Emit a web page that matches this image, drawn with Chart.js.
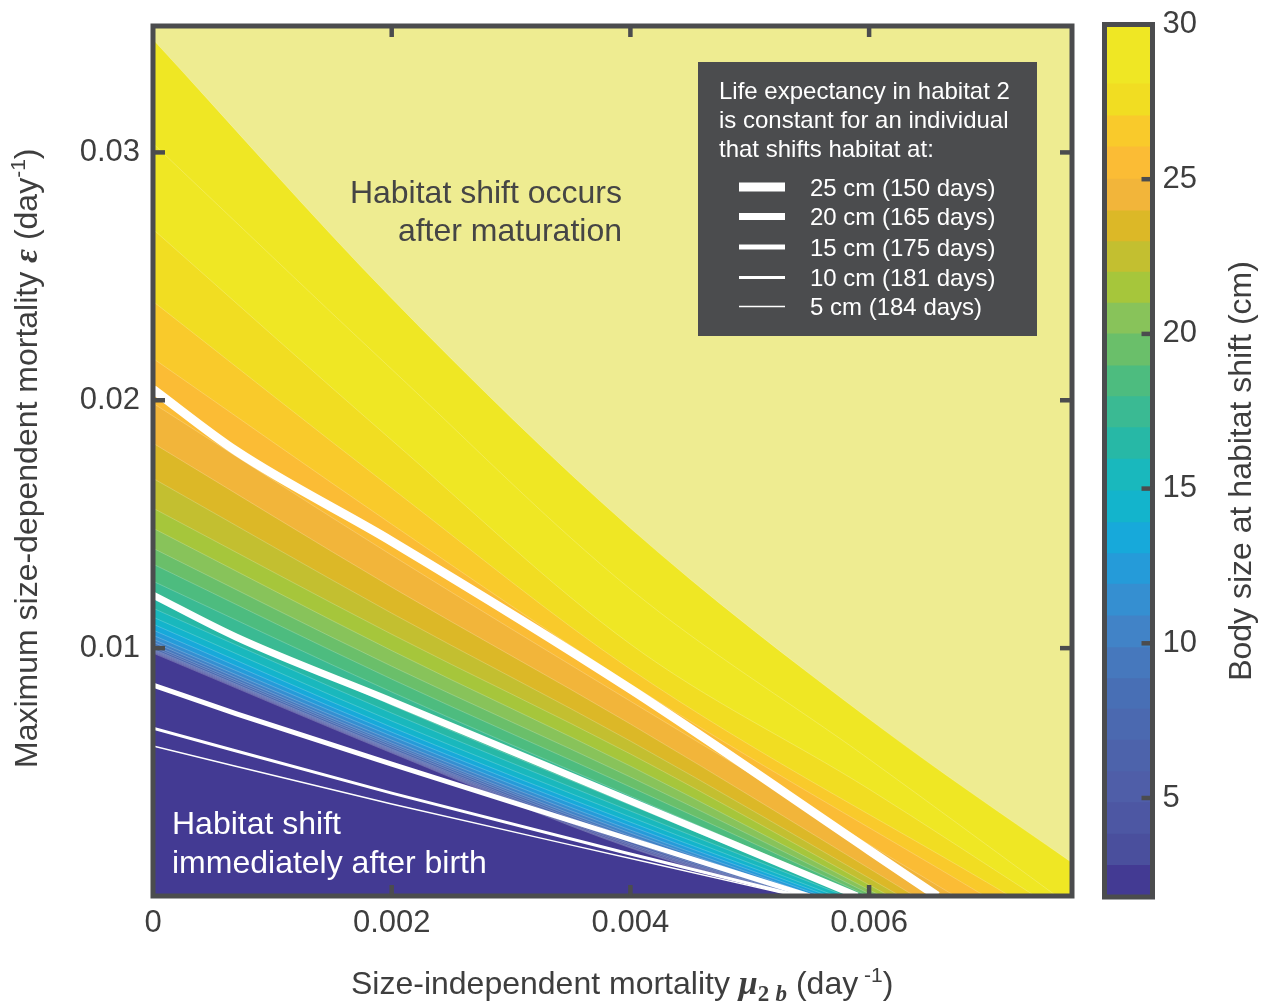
<!DOCTYPE html>
<html>
<head>
<meta charset="utf-8">
<script src="https://cdn.jsdelivr.net/npm/chart.js@4.4.1/dist/chart.umd.min.js"></script>
<style>
  html, body { margin: 0; padding: 0; background: #fff; }
  #wrap { position: relative; width: 1265px; height: 1001px; }
  #main { position: absolute; left: 0; top: 0; }
  #cbar { position: absolute; left: 1080px; top: 0; }
</style>
</head>
<body>
<div id="wrap">
  <canvas id="main" width="1265" height="1001"></canvas>
  <canvas id="cbar" width="185" height="1001"></canvas>
</div>
<script>
const FONT = "'Liberation Sans', Arial, Helvetica, sans-serif";
const SERIF = "'Liberation Serif', 'DejaVu Serif', serif";
const INK = '#3e3e3e';
const FRAME = '#4b4c4e';

// tick labels
const xTicks = [0, 0.002, 0.004, 0.006];
const yTicks = [0.01, 0.02, 0.03];
const cbTicks = [5, 10, 15, 20, 25, 30];

// contour edges (size levels), from the pale top region down to the purple region.
// epsilon (day^-1) read at mu = 0, 0.002, 0.004, 0.006, and mu where epsilon reaches 0
const yAtX0 = [0.03456, 0.03036, 0.02690, 0.02399, 0.02169, 0.01988, 0.01827, 0.01685, 0.01565, 0.01484,
  0.01403, 0.01339, 0.01270, 0.01206, 0.01161, 0.01125, 0.01097, 0.01073, 0.01052, 0.01036,
  0.01024, 0.01012, 0.01004, 0.00996, 0.00992, 0.00988, 0.00984, 0.00980];
const yAtX2 = [0.02411, 0.02125, 0.01839, 0.01645, 0.01500, 0.01375, 0.01246, 0.01141, 0.01056, 0.00990,
  0.00927, 0.00875, 0.00823, 0.00770, 0.00738, 0.00706, 0.00681, 0.00661, 0.00645, 0.00629,
  0.00617, 0.00609, 0.00601, 0.00593, 0.00589, 0.00585, 0.00581, 0.00577];
const yAtX4 = [0.01484, 0.01238, 0.01016, 0.00915, 0.00855, 0.00786, 0.00694, 0.00625, 0.00573, 0.00524,
  0.00480, 0.00440, 0.00403, 0.00367, 0.00343, 0.00319, 0.00298, 0.00282, 0.00266, 0.00254,
  0.00242, 0.00234, 0.00226, 0.00218, 0.00210, 0.00204, 0.00198, 0.00194];
const yAtX6 = [0.00714, 0.00552, 0.00431, null, null, null, null, null, null, null,
  null, null, null, null, null, null, null, null, null, null,
  null, null, null, null, null, null, null, null];
const xAtY0 = [0.0081, 0.00757, 0.00739, 0.00718, 0.00697, 0.00672, 0.00638, 0.00626, 0.00617, 0.00610,
  0.00604, 0.00599, 0.00594, 0.00587, 0.00580, 0.00572, 0.00566, 0.00560, 0.00555, 0.00550,
  0.00547, 0.00545, 0.00542, 0.00540, 0.00539, 0.00537, 0.00535, 0.00534];
const colX = [0, 0.002, 0.004, 0.006];

// band colours, largest size first
const paleColor = '#eeec91';
const bandColors = ['#efe724', '#f1dd22', '#f9ca2b', '#fbbc35', '#f2b53a', '#dcb827', '#c3bf30', '#a6c63b',
  '#88c35a', '#6abf6a', '#4dbc7f', '#3aba93', '#27b8a6', '#19b8bd', '#13b4cc', '#17a9da', '#259bd9',
  '#358fd1', '#4183c7', '#4678bd', '#486fb5', '#4b69b0', '#4d63ab', '#4f5ea8', '#4d57a3', '#4a4f9d', '#433a93'];
// colour bar band edges (cm), bottom to top
const cbEdges = [1.8, 2.82, 3.83, 4.85, 5.85, 6.87, 7.87, 8.86, 9.86, 10.89, 11.91, 12.9, 13.9, 14.93,
  15.95, 16.97, 17.97, 18.97, 20.0, 21.0, 22.0, 22.98, 23.98, 25.0, 26.05, 27.05, 28.08, 30];

// iso life expectancy lines
const lifeLabels = ['25 cm (150 days)', '20 cm (165 days)', '15 cm (175 days)', '10 cm (181 days)', '5 cm (184 days)'];
const lifeWidths = [9, 7, 5, 3, 1.4];
const lifeXs = [
  [0, 0.0007, 0.002, 0.004, 0.006, 0.00657],
  [0, 0.0007, 0.002, 0.004, 0.0059],
  [0, 0.0007, 0.002, 0.00417, 0.0055],
  [0, 0.002, 0.00417, 0.00542],
  [0, 0.002, 0.00417, 0.00538]
];
const lifeYs = [
  [0.02044, 0.01794, 0.01431, 0.00835, 0.00185, 0],
  [0.01214, 0.01044, 0.00786, 0.00383, 0],
  [0.00851, 0.00735, 0.00532, 0.00202, 0],
  [0.00677, 0.00415, 0.00149, 0],
  [0.00605, 0.00371, 0.00133, 0]
];

const datasets = [];
lifeXs.forEach((xs, i) => {
  datasets.push({
    data: xs.map((x, j) => ({ x: x, y: lifeYs[i][j] })),
    borderColor: '#ffffff', borderWidth: lifeWidths[i],
    pointRadius: 0, fill: false, cubicInterpolationMode: 'monotone'
  });
});
// lowest contour first so it is painted last (on top)
for (let k = yAtX0.length - 1; k >= 0; k--) {
  const cols = [yAtX0[k], yAtX2[k], yAtX4[k], yAtX6[k]];
  const pts = [];
  cols.forEach((v, j) => { if (v !== null) pts.push({ x: colX[j], y: v }); });
  pts.push({ x: xAtY0[k], y: 0 });
  datasets.push({
    data: pts,
    borderColor: 'rgba(255,255,255,0.35)', borderWidth: 0.6,
    backgroundColor: bandColors[Math.max(0, k - 1)],
    fill: 'origin', pointRadius: 0, cubicInterpolationMode: 'monotone'
  });
}

function drawRuns(ctx, runs, x, y) {
  runs.forEach(r => {
    ctx.font = r.font;
    ctx.fillText(r.t, x, y + (r.dy || 0));
    x += ctx.measureText(r.t).width;
  });
}

const noPad = s => { s.paddingTop = 0; s.paddingBottom = 0; s.paddingLeft = 0; s.paddingRight = 0; };

const mainDecor = {
  id: 'mainDecor',
  beforeDatasetsDraw(chart) {
    const { ctx, chartArea: a } = chart;
    ctx.save();
    ctx.fillStyle = paleColor;
    ctx.fillRect(a.left, a.top, a.right - a.left, a.bottom - a.top);
    ctx.restore();
  },
  afterDraw(chart) {
    const { ctx, chartArea: a, scales: { x, y } } = chart;
    ctx.save();
    // region notes
    ctx.font = `32px ${FONT}`;
    ctx.fillStyle = '#454545';
    ctx.textAlign = 'right';
    ctx.fillText('Habitat shift occurs', 622, 203);
    ctx.fillText('after maturation', 622, 241);
    ctx.fillStyle = '#ffffff';
    ctx.textAlign = 'left';
    ctx.fillText('Habitat shift', 172, 834);
    ctx.fillText('immediately after birth', 172, 873);

    // legend box
    ctx.fillStyle = FRAME;
    ctx.fillRect(698, 62, 339, 274);
    ctx.fillStyle = '#ffffff';
    ctx.font = `24px ${FONT}`;
    ctx.fillText('Life expectancy in habitat 2', 719, 98.5);
    ctx.fillText('is constant for an individual', 719, 127.5);
    ctx.fillText('that shifts habitat at:', 719, 156.5);
    const rows = [187, 216.5, 247, 277.5, 306.5];
    lifeLabels.forEach((lab, i) => {
      ctx.strokeStyle = '#ffffff';
      ctx.lineWidth = lifeWidths[i];
      ctx.beginPath();
      ctx.moveTo(739, rows[i]);
      ctx.lineTo(785, rows[i]);
      ctx.stroke();
      ctx.fillText(lab, 810, rows[i] + 8.5);
    });

    // frame and inward ticks
    ctx.strokeStyle = FRAME;
    ctx.lineWidth = 5;
    ctx.strokeRect(a.left, a.top, a.right - a.left, a.bottom - a.top);
    ctx.lineWidth = 4.5;
    const seg = (x1, y1, x2, y2) => { ctx.beginPath(); ctx.moveTo(x1, y1); ctx.lineTo(x2, y2); ctx.stroke(); };
    xTicks.filter(v => v > 0).forEach(v => {
      const px = x.getPixelForValue(v);
      seg(px, a.bottom, px, a.bottom - 11);
      seg(px, a.top, px, a.top + 11);
    });
    yTicks.forEach(v => {
      const py = y.getPixelForValue(v);
      seg(a.left, py, a.left + 12, py);
      seg(a.right, py, a.right - 12, py);
    });

    // axis titles
    ctx.fillStyle = INK;
    ctx.textAlign = 'left';
    ctx.textBaseline = 'alphabetic';
    drawRuns(ctx, [
      { t: 'Size-independent mortality ', font: `32px ${FONT}` },
      { t: 'μ', font: `italic bold 34px ${SERIF}` },
      { t: '2', font: `bold 23px ${SERIF}`, dy: 7 },
      { t: ' ', font: `23px ${FONT}`, dy: 7 },
      { t: 'b', font: `italic bold 23px ${SERIF}`, dy: 7 },
      { t: ' (day', font: `32px ${FONT}` },
      { t: ' -1', font: `21px ${FONT}`, dy: -12 },
      { t: ')', font: `32px ${FONT}` }
    ], 351, 994);
    ctx.translate(37, 768);
    ctx.rotate(-Math.PI / 2);
    drawRuns(ctx, [
      { t: 'Maximum size-dependent mortality ', font: `32px ${FONT}` },
      { t: 'ε', font: `italic bold 34px ${SERIF}` },
      { t: ' (day', font: `32px ${FONT}` },
      { t: '-1', font: `21px ${FONT}`, dy: -12 },
      { t: ')', font: `32px ${FONT}` }
    ], 0, 0);
    ctx.restore();
  }
};

new Chart(document.getElementById('main'), {
  type: 'line',
  data: { datasets: datasets },
  options: {
    responsive: false,
    animation: false,
    layout: { padding: { left: 0, top: 26, right: 193, bottom: 0 } },
    plugins: { legend: { display: false }, tooltip: { enabled: false } },
    scales: {
      x: {
        type: 'linear', min: 0, max: 0.0077,
        grid: { display: false, drawTicks: false }, border: { display: false },
        afterBuildTicks: s => { s.ticks = xTicks.map(v => ({ value: v })); },
        afterFit: s => { s.height = 105; noPad(s); },
        ticks: {
          autoSkip: false, maxRotation: 0, padding: 9, color: INK,
          font: { family: FONT, size: 31 },
          callback: v => (v === 0 ? '0' : v.toFixed(3))
        }
      },
      y: {
        type: 'linear', min: 0, max: 0.0351,
        grid: { display: false, drawTicks: false }, border: { display: false },
        afterBuildTicks: s => { s.ticks = yTicks.map(v => ({ value: v })); },
        afterFit: s => { s.width = 153; noPad(s); },
        ticks: {
          autoSkip: false, padding: 13, color: INK,
          font: { family: FONT, size: 31 },
          callback: v => v.toFixed(2)
        }
      }
    }
  },
  plugins: [mainDecor]
});

// colour bar
const cbDecor = {
  id: 'cbDecor',
  afterDraw(chart) {
    const { ctx, chartArea: a, scales: { y } } = chart;
    ctx.save();
    ctx.strokeStyle = FRAME;
    ctx.lineWidth = 5;
    ctx.strokeRect(a.left, a.top, a.right - a.left, a.bottom - a.top);
    ctx.lineWidth = 4.5;
    cbTicks.forEach(v => {
      const py = y.getPixelForValue(v);
      ctx.beginPath();
      ctx.moveTo(a.right, py);
      ctx.lineTo(a.right - 11, py);
      ctx.stroke();
    });
    ctx.fillStyle = INK;
    ctx.font = `32px ${FONT}`;
    ctx.textAlign = 'center';
    ctx.translate(171, 471);
    ctx.rotate(-Math.PI / 2);
    ctx.fillText('Body size at habitat shift (cm)', 0, 0);
    ctx.restore();
  }
};

const cbColors = bandColors.slice().reverse();
new Chart(document.getElementById('cbar'), {
  type: 'bar',
  data: {
    labels: [''],
    datasets: cbColors.map((c, i) => ({
      data: [[cbEdges[i], cbEdges[i + 1]]],
      backgroundColor: c, borderWidth: 0,
      barPercentage: 1, categoryPercentage: 1, grouped: false
    }))
  },
  options: {
    responsive: false,
    animation: false,
    layout: { padding: { left: 24.5, top: 24.5, right: 0, bottom: 104 } },
    plugins: { legend: { display: false }, tooltip: { enabled: false } },
    scales: {
      x: { display: false },
      y: {
        position: 'right', min: 1.8, max: 30,
        grid: { display: false, drawTicks: false }, border: { display: false },
        afterBuildTicks: s => { s.ticks = cbTicks.map(v => ({ value: v })); },
        afterFit: s => { s.width = 112.5; noPad(s); },
        ticks: { padding: 10, color: INK, font: { family: FONT, size: 31 } }
      }
    }
  },
  plugins: [cbDecor]
});
</script>
</body>
</html>
